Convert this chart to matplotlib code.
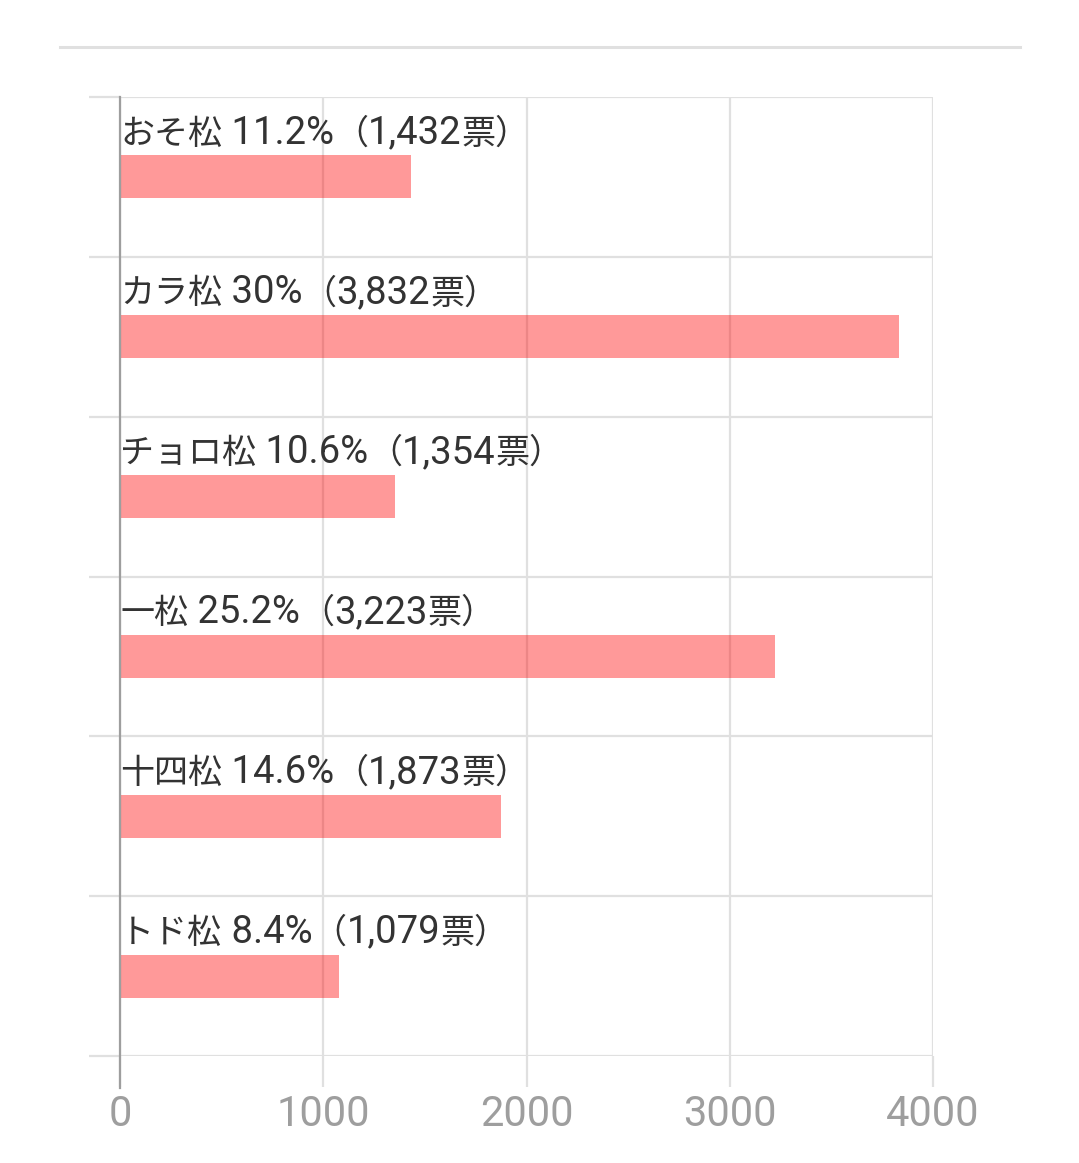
import matplotlib
matplotlib.use("Agg")
import matplotlib.pyplot as plt
from matplotlib.lines import Line2D

names = ["おそ松", "カラ松", "チョロ松", "一松", "十四松", "トド松"]
percents = ["11.2%", "30%", "10.6%", "25.2%", "14.6%", "8.4%"]
votes = [1432, 3832, 1354, 3223, 1873, 1079]
xticks = [0, 1000, 2000, 3000, 4000]

W, H = 1079, 1163
fig = plt.figure(figsize=(W / 100, H / 100), dpi=100)
ax = fig.add_axes([120 / W, 1 - 1056 / H, (933 - 120) / W, (1056 - 97) / H])

n = len(names)
ypos = list(range(n))
ax.barh(ypos, votes, height=0.27, color=(1, 0, 0), alpha=0.4, zorder=2)
ax.set_xlim(0, 4000)
ax.set_ylim(n - 0.5, -0.5)

# grid
ax.set_xticks(xticks)
ax.set_xticklabels([str(t) for t in xticks])
ax.set_yticks([i - 0.5 for i in range(n + 1)])
ax.set_yticklabels([])
ax.grid(True, color="#e0e0e0", linewidth=1.6, zorder=0)
ax.tick_params(axis="y", length=22, width=1.6, color="#e0e0e0", left=True)
ax.tick_params(axis="x", length=22, width=1.6, color="#e0e0e0", pad=5,
               labelsize=30, labelcolor="#9e9e9e")
for lab in ax.get_xticklabels():
    lab.set_fontfamily("Roboto")
for s in ["top", "right", "bottom"]:
    ax.spines[s].set_visible(False)
ax.spines["left"].set_color("#9e9e9e")
ax.spines["left"].set_linewidth(1.6)
ax.spines["left"].set_zorder(3)
ax.spines["left"].set_bounds(n - 0.5 + 0.2, -0.5)

CJK = dict(family=["Noto Sans CJK JP", "DejaVu Sans"], fontsize=24.5)
LAT = dict(family=["Roboto", "Noto Sans CJK JP"], fontsize=27.5)

for i, (nm, p, v) in enumerate(zip(names, percents, votes)):
    pieces = [(nm, CJK), (" " + p, LAT), ("（", CJK), (f"{v:,}", LAT), ("票）", CJK)]
    prev = None
    for txt, st in pieces:
        if prev is None:
            prev = ax.annotate(txt, xy=(0, i - 0.135), xytext=(0, 8.5),
                               textcoords="offset points", ha="left", va="baseline",
                               color="#333333", zorder=4, **st)
        else:
            prev = ax.annotate(txt, xy=(1, i - 0.135), xycoords=(prev, "data"),
                               xytext=(0, 8.5), textcoords="offset points",
                               ha="left", va="baseline",
                               color="#333333", zorder=4, **st)

fig.add_artist(Line2D([60 / W, 1020 / W], [1 - 47 / H, 1 - 47 / H],
                      color="#e0e0e0", linewidth=2.2))

fig.savefig("out.png", dpi=100, facecolor="white")
